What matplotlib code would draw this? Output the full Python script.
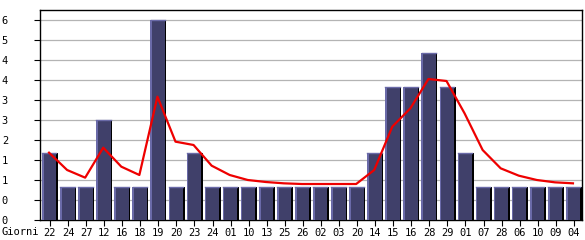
import matplotlib
matplotlib.use("Agg")
import matplotlib.pyplot as plt
from matplotlib.ticker import FixedLocator, FuncFormatter

days = ["22", "24", "27", "12", "16", "18", "19", "20", "23", "24",
        "01", "10", "13", "25", "26", "02", "03", "20", "14", "15",
        "16", "28", "29", "01", "07", "28", "06", "10", "09", "04"]
visits = [2, 1, 1, 3, 1, 1, 6, 1, 2, 1,
          1, 1, 1, 1, 1, 1, 1, 1, 2, 4,
          4, 5, 4, 2, 1, 1, 1, 1, 1, 1]
trend = [2.02, 1.5, 1.27, 2.17, 1.6, 1.35, 3.7, 2.35, 2.25, 1.63,
         1.35, 1.2, 1.14, 1.1, 1.08, 1.08, 1.08, 1.08, 1.5, 2.8,
         3.35, 4.23, 4.17, 3.2, 2.1, 1.55, 1.33, 1.2, 1.13, 1.1]
yticks = [0, 0.6, 1.2, 1.8, 2.4, 3.0, 3.6, 4.2, 4.8, 5.4, 6.0]

body = "#40406a"
edge = "#6a6aa8"

fig = plt.figure(figsize=(5.85, 2.4), dpi=100)
ax = fig.add_axes([40 / 585, 20 / 240, 542 / 585, 210 / 240])

x = list(range(len(days)))
for yv in yticks[1:]:
    ax.axhline(yv, color="#b4b4b4", lw=0.9, zorder=0)

# shadow, body, light left strip
ax.bar([i + 0.455 for i in x], visits, width=0.09, color="black", zorder=2)
ax.bar([i + 0.015 for i in x], visits, width=0.79, color=body, zorder=3)
ax.bar([i - 0.34 for i in x], visits, width=0.09, color=edge, zorder=4)
for i, v in zip(x, visits):
    ax.plot([i - 0.38, i + 0.41], [v, v], color=edge, lw=1.0, zorder=5)

ax.plot(x, trend, color="#ee0000", lw=1.6, zorder=6)

ax.set_xlim(-0.5, len(days) - 0.5)
ax.set_ylim(0, 6.3)
ax.set_xticks([i + 0.05 for i in x])
ax.set_xticklabels(days, family="DejaVu Sans Mono", fontsize=7.5)
ax.yaxis.set_major_locator(FixedLocator(yticks))
ax.yaxis.set_major_formatter(FuncFormatter(lambda v, p: str(int(v + 1e-9))))
for lab in ax.get_yticklabels():
    lab.set_family("DejaVu Sans Mono")
    lab.set_fontsize(7.5)
ax.tick_params(axis="y", length=4, width=0.8, pad=19)
ax.tick_params(axis="x", length=4, width=0.8, pad=1.5)
for s in ax.spines.values():
    s.set_linewidth(1.0)

fig.text(2 / 585, 8 / 240, "Giorni", family="DejaVu Sans Mono", fontsize=7.5,
         ha="left", va="center")

fig.savefig("out.png", dpi=100)
